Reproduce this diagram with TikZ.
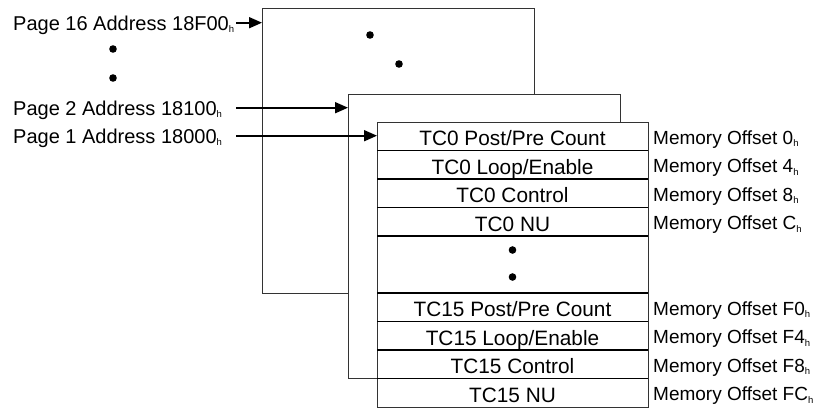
\documentclass[tikz,border=0pt]{standalone}
\usepackage{fontspec}
\setmainfont{Liberation Sans}
\usetikzlibrary{arrows.meta}
\newcommand\hsub{\raisebox{-2.8bp}{\fontsize{9.5bp}{9.5bp}\selectfont h}}
\begin{document}
\begin{tikzpicture}[x=1bp,y=-1bp,
  font=\fontsize{19bp}{22bp}\selectfont,
  page/.style={draw=black!80, line width=1bp, fill=white, inner sep=0pt, outer sep=0pt,
     anchor=north west, minimum width=272bp, minimum height=285bp},
  row/.style={inner sep=0pt, outer sep=0pt, anchor=north west,
     font=\fontsize{20.8bp}{24bp}\selectfont,
     minimum width=271bp, minimum height=28.5bp, text height=19bp, text depth=0bp},
  sep/.style={line width=1.8bp, black},
  lbl/.style={inner sep=0pt, anchor=base west},
  plbl/.style={lbl, font=\fontsize{20bp}{24bp}\selectfont},
  arr/.style={line width=1.8bp, -{Triangle[length=13bp,width=11bp]}},
  dot/.style={fill=black}]
\useasboundingbox (0,0) rectangle (822,409);
% pages
\node[page] (p16) at (262,8) {};
\node[page, minimum height=284bp] (p2) at (348,94) {};
\node[page, minimum width=271bp] (p1) at (377,122) {};
% dots in page 16
\fill[dot] (370,35) circle (3.8bp);
\fill[dot] (399,64) circle (3.8bp);
% rows
\node[row] (r0) at (377,122.0) {TC0 Post/Pre Count};
\node[row] (r1) at (377,150.5) {TC0 Loop/Enable};
\node[row] (r2) at (377,179.0) {TC0 Control};
\node[row] (r3) at (377,207.5) {TC0 NU};
\node[row] (r6) at (377,293.0) {TC15 Post/Pre Count};
\node[row] (r7) at (377,321.5) {TC15 Loop/Enable};
\node[row] (r8) at (377,350.0) {TC15 Control};
\node[row] (r9) at (377,378.5) {TC15 NU};
\foreach \r in {r0,r1,r2,r3,r6,r7,r8}
  \draw[sep] (\r.south west) -- (\r.south east);
\draw[sep] (r6.north west) -- (r6.north east);
\fill[dot] (512.5,250) circle (3.8bp);
\fill[dot] (512.5,277) circle (3.8bp);
% offsets
\node[lbl] (m0) at (653,144.0) {Memory Offset 0\hsub};
\node[lbl] (m1) at (653,172.5) {Memory Offset 4\hsub};
\node[lbl] (m2) at (653,201.0) {Memory Offset 8\hsub};
\node[lbl] (m3) at (653,229.5) {Memory Offset C\hsub};
\node[lbl] (m6) at (653,315.0) {Memory Offset F0\hsub};
\node[lbl] (m7) at (653,343.5) {Memory Offset F4\hsub};
\node[lbl] (m8) at (653,372.0) {Memory Offset F8\hsub};
\node[lbl] (m9) at (653,400.5) {Memory Offset FC\hsub};
% page labels
\node[plbl] (l16) at (13,30) {Page 16 Address 18F00\hsub};
\node[plbl] (l2) at (13,115) {Page 2 Address 18100\hsub};
\node[plbl] (l1) at (13,143) {Page 1 Address 18000\hsub};
\fill[dot] (113,49) circle (3.8bp);
\fill[dot] (113,78) circle (3.8bp);
% arrows
\coordinate (a16) at (236,22.7);
\coordinate (a2) at (236,107.7);
\coordinate (a1) at (236,135.7);
\draw[arr] (a16) -- (a16 -| p16.west);
\draw[arr] (a2) -- (a2 -| p2.west);
\draw[arr] (a1) -- (a1 -| p1.west);
\end{tikzpicture}
\end{document}
